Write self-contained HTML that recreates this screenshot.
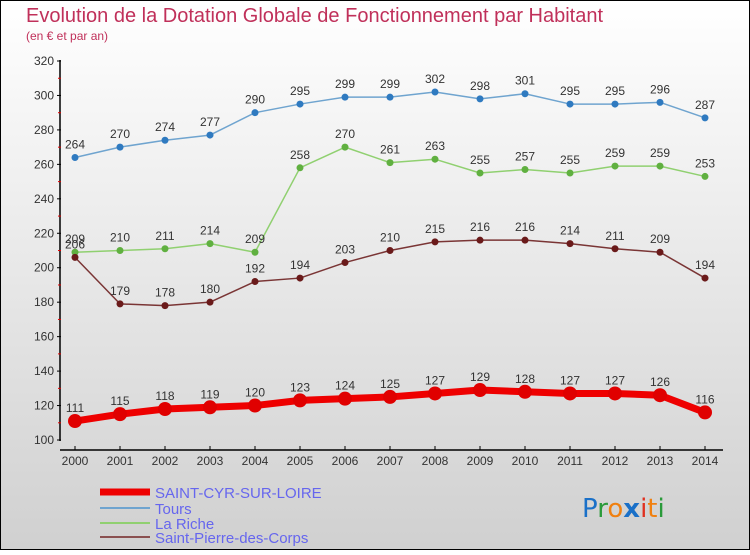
<!DOCTYPE html>
<html><head><meta charset="utf-8"><style>
html,body{margin:0;padding:0}
body{width:750px;height:550px;overflow:hidden;font-family:"Liberation Sans",sans-serif}
</style></head><body>
<svg id="chart" width="750" height="550" xmlns="http://www.w3.org/2000/svg">
<defs><linearGradient id="bg" x1="0" y1="0" x2="0" y2="1"><stop offset="0" stop-color="#ffffff"/><stop offset="1" stop-color="#d0d0d0"/></linearGradient></defs>
<rect x="0.5" y="0.5" width="749" height="549" fill="url(#bg)" stroke="#000"/>
<text x="26" y="22" font-size="20" fill="#c0305a">Evolution de la Dotation Globale de Fonctionnement par Habitant</text>
<text x="26" y="40" font-size="12" fill="#c0305a">(en € et par an)</text>
<g id="axes"></g>
<g id="series"></g>
<g>
<line x1="100" y1="492" x2="150" y2="492" stroke="#ee0000" stroke-width="7"/>
<text x="155" y="498" font-size="15" fill="#6666ee">SAINT-CYR-SUR-LOIRE</text>
<line x1="100" y1="508" x2="150" y2="508" stroke="#6fa4cf" stroke-width="2"/>
<text x="155" y="514" font-size="15" fill="#6666ee">Tours</text>
<line x1="100" y1="523" x2="150" y2="523" stroke="#90d070" stroke-width="2"/>
<text x="155" y="529" font-size="15" fill="#6666ee">La Riche</text>
<line x1="100" y1="537" x2="150" y2="537" stroke="#8a5050" stroke-width="2"/>
<text x="155" y="543" font-size="15" fill="#6666ee">Saint-Pierre-des-Corps</text>
</g>
<g font-size="26" font-family="'DejaVu Sans',sans-serif">
<text x="582" y="517"><tspan fill="#1a70c8">P</tspan><tspan fill="#2a9a3a">r</tspan><tspan fill="#f08010">o</tspan><tspan fill="#1a70c8" font-weight="bold">x</tspan><tspan fill="#e03020">i</tspan><tspan fill="#f08010">t</tspan><tspan fill="#2a9a3a">i</tspan></text>
</g>
</svg>
<script>
const years=[2000,2001,2002,2003,2004,2005,2006,2007,2008,2009,2010,2011,2012,2013,2014];
const yTicks=[100,120,140,160,180,200,220,240,260,280,300,320];
const saintCyr=[111,115,118,119,120,123,124,125,127,129,128,127,127,126,116];
const tours=[264,270,274,277,290,295,299,299,302,298,301,295,295,296,287];
const laRiche=[209,210,211,214,209,258,270,261,263,255,257,255,259,259,253];
const saintPierre=[206,179,178,180,192,194,203,210,215,216,216,214,211,209,194];
const NS="http://www.w3.org/2000/svg";
const xS=i=>75+i*45;
const yS=v=>440-(v-100)*(379/220);
function mk(tag,attrs,parent){const e=document.createElementNS(NS,tag);for(const k in attrs)e.setAttribute(k,attrs[k]);parent.appendChild(e);return e;}
const axes=document.getElementById('axes');
const ya=mk('line',{x1:60,y1:60,x2:60,y2:441,stroke:'#000','stroke-width':1.5},axes);


const xa=mk('line',{x1:60,y1:450,x2:723,y2:450,stroke:'#000','stroke-width':1.5},axes);


yTicks.forEach((t,i)=>{
  const y=yS(t);
  mk('line',{x1:57,y1:y,x2:61,y2:y,stroke:'#000'},axes);
  if(i<yTicks.length-1) mk('line',{x1:58,y1:y-17.2,x2:61,y2:y-17.2,stroke:'#e00000'},axes);
  const tx=mk('text',{x:54,y:y+4,'font-size':12,fill:'#333','text-anchor':'end'},axes);
  tx.textContent=t;
  
  
});
years.forEach((yr,i)=>{
  const x=xS(i);
  mk('line',{x1:x,y1:446,x2:x,y2:450,stroke:'#000'},axes);
  const tx=mk('text',{x:x,y:465,'font-size':12,fill:'#333','text-anchor':'middle'},axes);
  tx.textContent=yr;
  
  
});
const sg=document.getElementById('series');
function drawSeries(vals,color,dot,w,r,name){
  const g=mk('g',{},sg);
  
  
  const pts=vals.map((v,i)=>xS(i)+','+yS(v)).join(' ');
  mk('polyline',{points:pts,fill:'none',stroke:color,'stroke-width':w,'stroke-linejoin':'round'},g);
  vals.forEach((v,i)=>{
    const c=mk('circle',{cx:xS(i),cy:yS(v),r:r,fill:dot},g);
    
    
    const t=mk('text',{x:xS(i),y:yS(v)-9,'font-size':12,fill:'#333','text-anchor':'middle'},g);
    t.textContent=v;
    
    
  });
}
drawSeries(tours,'#6fa4cf','#2f7ac0',1.5,3.5,'series-tours');
drawSeries(laRiche,'#90d070','#60b040',1.5,3.5,'series-la-riche');
drawSeries(saintPierre,'#7a3535','#6a1a1a',1.5,3.5,'series-saint-pierre');
drawSeries(saintCyr,'#ee0000','#e00000',7,7,'series-saint-cyr');
</script>
</body></html>
